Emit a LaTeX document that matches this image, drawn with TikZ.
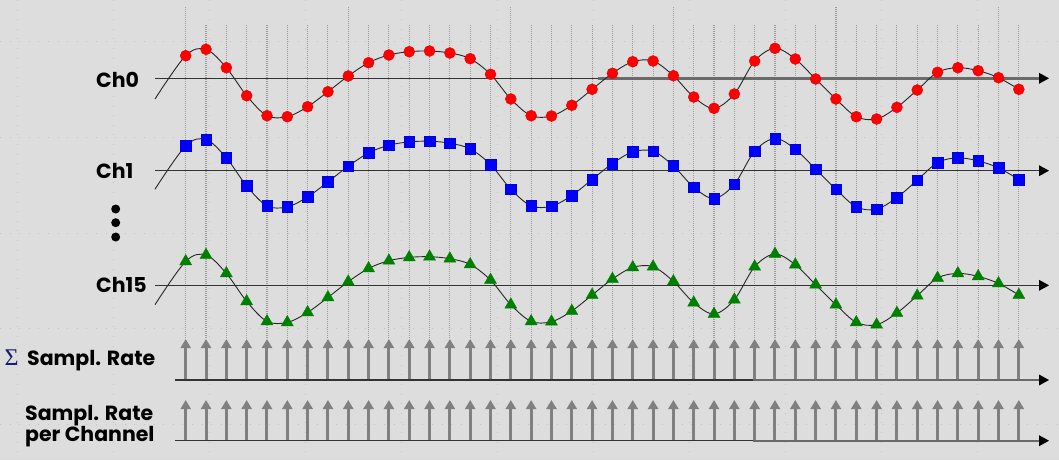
\documentclass[tikz,border=0pt]{standalone}
\usepackage{fontspec}
\newfontfamily\labfont{Poppins}
\newfontfamily\sigfont{Liberation Serif}
\usetikzlibrary{arrows.meta,shapes.geometric}
\definecolor{bgc}{HTML}{DDDDDD}
\definecolor{gridc}{HTML}{C4C4C4}
\definecolor{samplec}{HTML}{9C9C9C}
\definecolor{stemc}{HTML}{808080}
\definecolor{axgray}{HTML}{6A6A6A}
\definecolor{sigc}{HTML}{1C1C70}
\definecolor{grn}{HTML}{008000}
\newcommand\dlist{-22.6,-29.0,-10.6,17.4,37.4,38.4,28.4,13.4,-2.3,-15.6,-23.3,-26.6,-27.3,-25.3,-19.6,-4.0,20.7,37.4,37.7,27.0,11.0,-5.0,-16.6,-17.3,-2.6,18.7,30.0,15.7,-17.3,-30.0,-19.3,0.7,20.7,38.4,40.7,29.0,11.7,-6.0,-10.6,-7.6,-0.6,11.0}
\newcommand\wavepath{plot[smooth,tension=0.55] coordinates {(155,20.7) (185.70,-22.6) (206.02,-29.0) (226.34,-10.6) (246.66,17.4) (266.98,37.4) (287.30,38.4) (307.62,28.4) (327.94,13.4) (348.26,-2.3) (368.58,-15.6) (388.90,-23.3) (409.22,-26.6) (429.54,-27.3) (449.86,-25.3) (470.18,-19.6) (490.50,-4.0) (510.82,20.7) (531.14,37.4) (551.46,37.7) (571.78,27.0) (592.10,11.0) (612.42,-5.0) (632.74,-16.6) (653.06,-17.3) (673.38,-2.6) (693.70,18.7) (714.02,30.0) (734.34,15.7) (754.66,-17.3) (774.98,-30.0) (795.30,-19.3) (815.62,0.7) (835.94,20.7) (856.26,38.4) (876.58,40.7) (896.90,29.0) (917.22,11.7) (937.54,-6.0) (957.86,-10.6) (978.18,-7.6) (998.50,-0.6) (1018.82,11.0)}}
\begin{document}
\begin{tikzpicture}[x=1pt,y=-1pt,
  gridline/.style={draw=gridc,line width=1pt,dash pattern=on 1pt off 8.6pt},
  sampline/.style={draw=samplec,line width=1.1pt,dash pattern=on 1pt off 1pt},
  stem/.style={draw=stemc,line width=3pt,-{Triangle[width=10pt,length=9pt]}},
  axisline/.style={draw=black!80,line width=1.1pt},
  axisthick/.style={draw=axgray,line width=2.4pt},
  wave/.style={draw=black!85,line width=0.9pt},
  redcirc/.style={circle,fill=red,draw=red!90!black,line width=0.4pt,minimum size=11pt,inner sep=0pt},
  bluesq/.style={rectangle,fill=blue,draw=blue!85!black,line width=0.4pt,minimum size=10.5pt,inner sep=0pt},
  greentri/.style={regular polygon,regular polygon sides=3,fill=grn,draw=grn,line width=0.3pt,minimum size=14pt,inner sep=0pt},
  vdot/.style={circle,fill=black,minimum size=9pt,inner sep=0pt},
  lab/.style={inner sep=0pt,font=\labfont\bfseries\fontsize{20.5}{22}\selectfont}]
\useasboundingbox (0,0) rectangle (1059,460);
\fill[bgc] (0,0) rectangle (1059,460);
% background grid
\foreach \gx in {17,113,...,977} \draw[gridline] (\gx,0) -- (\gx,460);
\foreach \gy in {42,137.5,233,328.5,424} \draw[gridline] (0,\gy) -- (1059,\gy);
% sampling lines and stems
\foreach \k in {0,...,41}{
  \pgfmathsetmacro{\xx}{185.7+20.32*\k}
  \pgfmathtruncatemacro{\mm}{mod(\k,8)}
  \pgfmathsetmacro{\yt}{\mm==0 ? 7 : 25}
  \coordinate (vt\k) at (\xx,\yt);
  \coordinate (vb\k) at (\xx,338);
  \draw[sampline] (vt\k) -- (vb\k);
  \coordinate (sa\k) at (\xx,380);
  \coordinate (sb\k) at (\xx,339);
  \draw[stem] (sa\k) -- (sb\k);
  \coordinate (pa\k) at (\xx,440.7);
  \coordinate (pb\k) at (\xx,400);
  \draw[stem] (pa\k) -- (pb\k);
}
% baselines of rate rows
\coordinate (r1s) at (175,380); \coordinate (r1m) at (753,380); \coordinate (r1t) at (1039,380); \coordinate (r1e) at (1049,380);
\coordinate (r2s) at (175,440.7); \coordinate (r2m) at (753,440.7); \coordinate (r2t) at (1039,440.7); \coordinate (r2e) at (1049,440.7);
\draw[axisline] (r1s) -- (r1m);
\draw[axisthick] (r1m) -- (r1t);
\draw[axisline] (r2s) -- (r2m);
\draw[axisthick] (r2m) -- (r2t);
% channel axes
\coordinate (c0s) at (155,78.3); \coordinate (c0m) at (598,78.3); \coordinate (c0t) at (1039,78.3); \coordinate (c0e) at (1049,78.3);
\coordinate (c1s) at (155,170.7); \coordinate (c1t) at (1039,170.7); \coordinate (c1e) at (1049,170.7);
\coordinate (c2s) at (155,285.3); \coordinate (c2t) at (1039,285.3); \coordinate (c2e) at (1049,285.3);
\draw[axisline] (c0s) -- (c0m);
\draw[axisthick] (c0m) -- (c0t);
\draw[axisline] (c1s) -- (c1t);
\draw[axisline] (c2s) -- (c2t);
% arrowheads of axes
\foreach \a in {r1,r2,c0,c1,c2}{
  \fill[black] (\a e) -- ([shift={(-10,-5.5)}]\a e) -- ([shift={(-10,5.5)}]\a e) -- cycle;
}
% waveforms
\draw[wave,shift={(0,78.3)}] \wavepath;
\draw[wave,shift={(0,168.5)}] \wavepath;
\draw[wave,shift={(0,284)}] \wavepath;
% markers
\foreach \d [count=\n from 0] in \dlist {
  \node[redcirc] (r\n) at ({185.7+20.32*\n},{78.3+\d}) {};
  \node[bluesq] (b\n) at ({185.7+20.32*\n},{168.5+\d}) {};
  \node[greentri] (g\n) at ({185.7+20.32*\n},{284+\d}) {};
}
% labels
\node[lab,anchor=west] (l0) at (96,79.5) {Ch0};
\node[lab,anchor=west] (l1) at (96,170.7) {Ch1};
\node[lab,anchor=west] (l15) at (96,285.3) {Ch15};
\node[vdot] (e1) at (115.7,209) {};
\node[vdot] (e2) at (115.7,222.7) {};
\node[vdot] (e3) at (115.7,237) {};
\node[inner sep=0pt,anchor=base west,text=sigc,font=\sigfont\fontsize{24}{24}\selectfont] (sig) at (4.5,365) {Σ};
\node[lab,anchor=base west] (sr) at (27,365) {Sampl. Rate};
\node[lab,anchor=base west] (pr1) at (25,420.7) {Sampl. Rate};
\node[lab,anchor=base west] (pr2) at (25,441.5) {per Channel};
\end{tikzpicture}
\end{document}
